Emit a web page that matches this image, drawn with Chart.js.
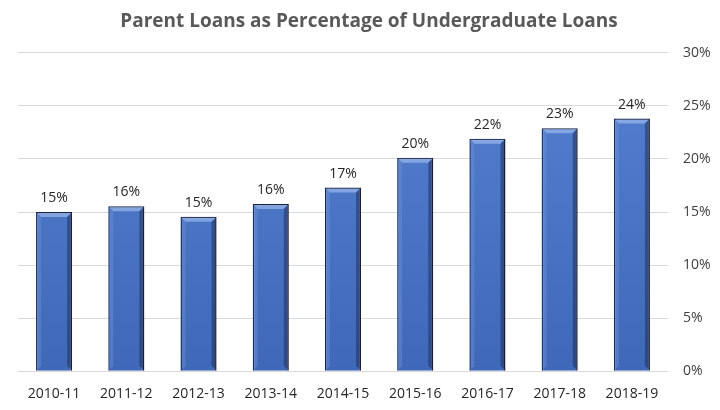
<!DOCTYPE html>
<html>
<head>
<meta charset="utf-8">
<script src="https://cdn.jsdelivr.net/npm/chart.js@4"></script>
<style>
  html, body { margin: 0; padding: 0; background: #fff; }
  #wrap { width: 720px; height: 410px; }
</style>
</head>
<body>
<div id="wrap"><canvas id="chart" width="720" height="410"></canvas></div>
<script>
const years = ['2010-11', '2011-12', '2012-13', '2013-14', '2014-15', '2015-16', '2016-17', '2017-18', '2018-19'];
const parentShare = [15.0, 15.55, 14.55, 15.75, 17.3, 20.1, 21.9, 22.9, 23.8];
const yTicks = [0, 5, 10, 15, 20, 25, 30];

const ctx = document.getElementById('chart').getContext('2d');

// etiquetas encima de cada barra
const barLabels = {
  id: 'barLabels',
  afterDatasetsDraw(chart) {
    const c = chart.ctx;
    const meta = chart.getDatasetMeta(0);
    c.save();
    c.font = '14px "Open Sans", sans-serif';
    c.fillStyle = '#262626';
    c.textAlign = 'center';
    c.textBaseline = 'bottom';
    meta.data.forEach((bar, i) => {
      c.fillText(Math.round(parentShare[i]) + '%', bar.x, bar.y - 7);
    });
    c.restore();
  }
};

// bisel de las barras
const bevel = {
  id: 'bevel',
  afterDatasetsDraw(chart) {
    const c = chart.ctx;
    const meta = chart.getDatasetMeta(0);
    c.save();
    meta.data.forEach(bar => {
      const w = bar.width, l = bar.x - w / 2, r = bar.x + w / 2, t = bar.y, b = bar.base;
      const d = 5;
      c.fillStyle = 'rgba(150,180,235,0.75)';
      c.beginPath();
      c.moveTo(l + 1, t + 1); c.lineTo(r - 1, t + 1); c.lineTo(r - d, t + d); c.lineTo(l + d, t + d);
      c.closePath(); c.fill();
      c.fillStyle = 'rgba(20,35,80,0.45)';
      c.beginPath();
      c.moveTo(r - 1, t + 1); c.lineTo(r - 1, b - 1); c.lineTo(r - d, b - d); c.lineTo(r - d, t + d);
      c.closePath(); c.fill();
      c.fillStyle = 'rgba(110,145,210,0.45)';
      c.beginPath();
      c.moveTo(l + 1, t + 1); c.lineTo(l + 1, b - 1); c.lineTo(l + d, b - d); c.lineTo(l + d, t + d);
      c.closePath(); c.fill();
    });
    c.restore();
  }
};

new Chart(ctx, {
  type: 'bar',
  data: {
    labels: years,
    datasets: [{
      data: parentShare,
      backgroundColor: (context) => {
        const area = context.chart.chartArea;
        if (!area) return '#4472C4';
        const g = context.chart.ctx.createLinearGradient(0, area.top, 0, area.bottom);
        g.addColorStop(0, '#5580d0');
        g.addColorStop(1, '#3f68b8');
        return g;
      },
      borderColor: '#16213f',
      borderWidth: 1.5,
      barPercentage: 0.5,
      categoryPercentage: 1.0
    }]
  },
  options: {
    responsive: false,
    animation: false,
    layout: { padding: { left: 18, right: 0, top: 6, bottom: 2 } },
    plugins: {
      legend: { display: false },
      tooltip: { enabled: false },
      title: {
        display: true,
        text: 'Parent Loans as Percentage of Undergraduate Loans',
        color: '#595959',
        font: { family: '"Open Sans", sans-serif', size: 19, weight: 'bold' },
        padding: { top: 4, bottom: 20 }
      }
    },
    scales: {
      x: {
        grid: { display: false },
        border: { display: false },
        ticks: { color: '#262626', font: { family: '"Open Sans", sans-serif', size: 14 }, padding: 6, maxRotation: 0 }
      },
      y: {
        position: 'right',
        min: 0,
        max: 30,
        afterBuildTicks: (axis) => { axis.ticks = yTicks.map(v => ({ value: v })); },
        afterFit: (axis) => { axis.width = 52; },
        grid: { color: '#d9d9d9', lineWidth: 1, drawTicks: false },
        border: { display: false },
        ticks: {
          color: '#404040',
          font: { family: '"Open Sans", sans-serif', size: 14 },
          padding: 15,
          callback: v => v + '%'
        }
      }
    }
  },
  plugins: [bevel, barLabels]
});
</script>
</body>
</html>
